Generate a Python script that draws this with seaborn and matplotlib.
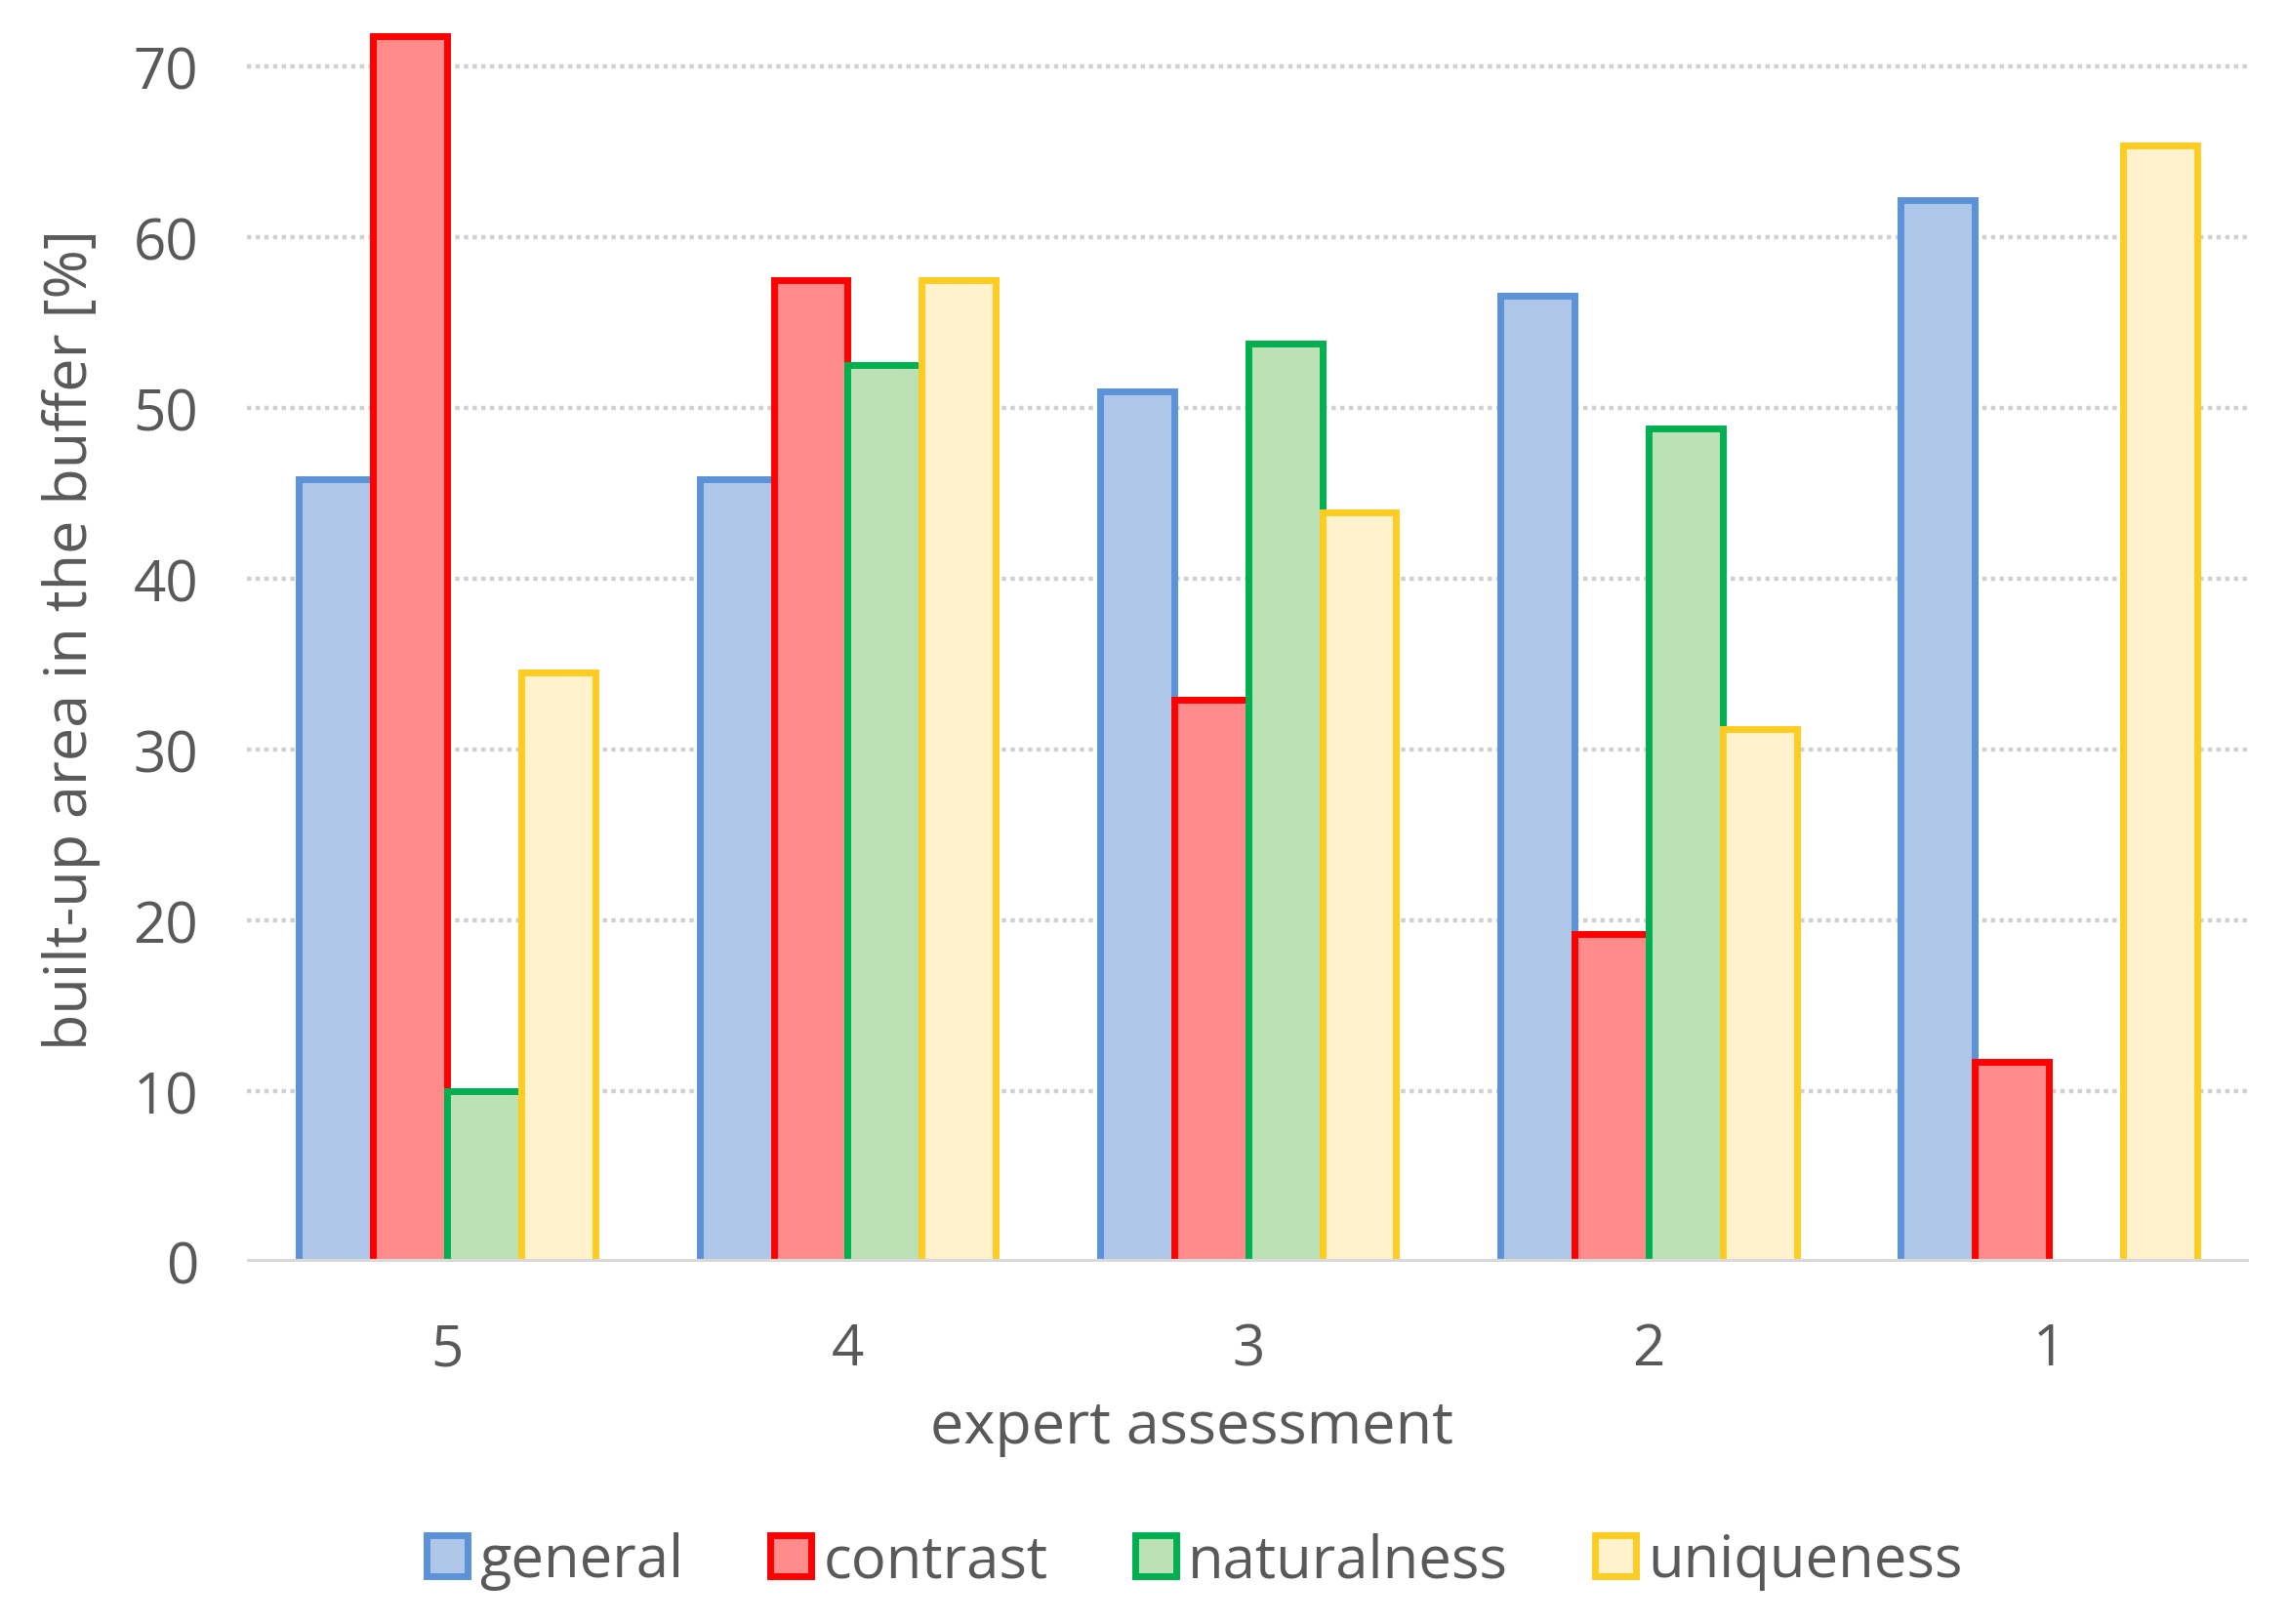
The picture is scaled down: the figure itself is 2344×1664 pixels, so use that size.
import matplotlib
matplotlib.use("Agg")
import matplotlib.pyplot as plt
import pandas as pd
import seaborn as sns
from matplotlib.patches import Patch

categories = ["5", "4", "3", "2", "1"]
series = ["general", "contrast", "naturalness", "uniqueness"]
general = [45.8, 45.8, 51.0, 56.6, 62.2]
contrast = [71.8, 57.5, 32.9, 19.2, 11.7]
naturalness = [10.0, 52.5, 53.8, 48.8, 0.0]
uniqueness = [34.5, 57.5, 43.9, 31.2, 65.4]
y_ticks = [0, 10, 20, 30, 40, 50, 60, 70]

fills = ["#AEC7E8", "#FF8B8B", "#BBE1B5", "#FFF2CC"]
edges = ["#5B92D8", "#FF0000", "#00B050", "#FFCC22"]
text_color = "#595959"

df = pd.DataFrame({
    "assessment": categories * 4,
    "value": general + contrast + naturalness + uniqueness,
    "series": [s for s in series for _ in categories],
})

sns.set_style("white")
plt.rcParams["font.family"] = ["Open Sans", "DejaVu Sans"]

fig = plt.figure(figsize=(23.44, 16.65), dpi=100)
ax = fig.add_axes([0.108, 0.223, 0.875, 0.767])

sns.barplot(data=df, x="assessment", y="value", hue="series", order=categories,
            hue_order=series, palette=fills, width=0.74, ax=ax, legend=False,
            saturation=1, zorder=3)

# Excel-like outlines, hide the empty bar
for cont, ec in zip(ax.containers, edges):
    for bar in cont:
        if bar.get_height() == 0:
            bar.set_linewidth(0)
        else:
            bar.set_edgecolor(ec)
            bar.set_linewidth(5)

ax.set_xlim(-0.5, 4.5)
ax.set_ylim(0, 73)
ax.set_yticks(y_ticks)
ax.yaxis.grid(True, linestyle=(0, (1, 1)), color="#D0D0D0", linewidth=3.2, zorder=0)
ax.axhline(0, color="#D9D9D9", linewidth=4.5, zorder=4)
for s in ax.spines.values():
    s.set_visible(False)
ax.tick_params(axis="both", length=0, labelsize=42, labelcolor=text_color)
ax.tick_params(axis="x", pad=44)
ax.tick_params(axis="y", pad=36)

ax.set_xlabel("expert assessment", fontsize=44, color=text_color, labelpad=14)
ax.xaxis.label.set_x(0.472)
ax.set_ylabel("built-up area in the buffer [%]", fontsize=44, color=text_color, labelpad=24)

handles = [Patch(facecolor=f, edgecolor=e, linewidth=5, label=s)
           for f, e, s in zip(fills, edges, series)]
fig.legend(handles=handles, loc="center", bbox_to_anchor=(0.522, 0.039), ncol=4,
           frameon=False, fontsize=43, labelcolor=text_color, handlelength=0.7,
           handleheight=0.7, handletextpad=0.2, columnspacing=1.5)

fig.savefig("out.png", dpi=100)
